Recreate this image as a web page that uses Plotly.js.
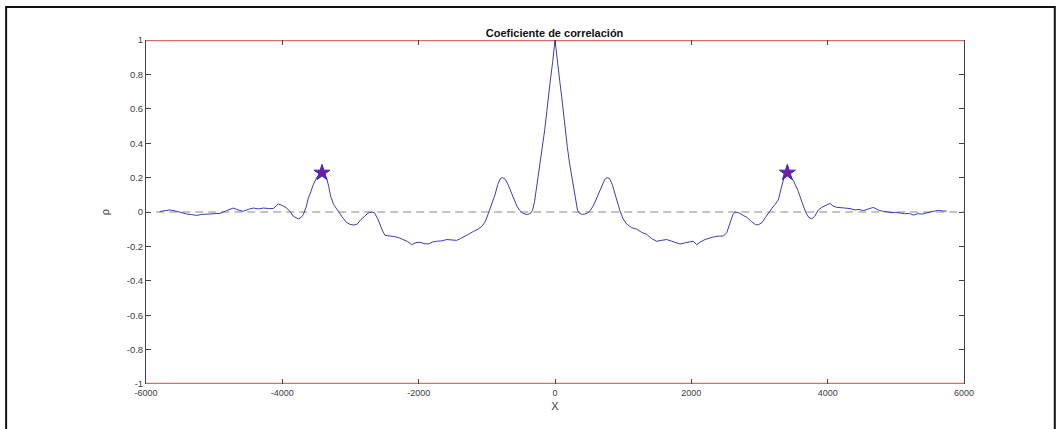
<!DOCTYPE html>
<html>
<head>
<meta charset="utf-8">
<script src="https://cdn.plot.ly/plotly-3.0.1.min.js"></script>
<style>
html,body{margin:0;padding:0;background:#fff;}
#chart{width:1061px;height:429px;}
</style>
</head>
<body>
<div id="chart"></div>
<script>
// Lag values (X) and correlation coefficient (rho)
const lagX = [
-5800,-5720,-5648,-5550,-5480,-5403,-5330,-5256,-5180,-5110,-5020,-4915,-4820,-4719,-4650,-4572,-4500,-4426,-4350,-4279,
-4200,-4132,-4059,-4000,-3936,-3880,-3839,-3765,-3720,-3692,-3650,-3619,-3580,-3545,-3490,-3440,-3418,-3390,-3350,-3320,
-3290,-3250,-3210,-3178,-3120,-3060,-3007,-2950,-2900,-2850,-2800,-2740,-2690,-2650,-2600,-2567,-2530,-2494,-2440,-2372,
-2300,-2225,-2160,-2102,-2040,-1980,-1920,-1859,-1800,-1735,-1660,-1589,-1520,-1442,-1390,-1345,-1270,-1198,-1130,-1075,
-1030,-1002,-970,-943,-910,-880,-840,-800,-770,-730,-690,-640,-600,-560,-520,-480,-440,-400,-360,-330,
-300,-260,-213,-180,-150,-120,-98,-70,-35,-15,0,
15,35,70,98,120,150,180,213,260,300,330,360,400,440,480,520,560,600,640,690,
730,765,800,840,880,920,953,1000,1051,1120,1198,1270,1345,1420,1491,1560,1638,1700,1760,1834,
1900,1960,2029,2079,2130,2200,2260,2323,2400,2470,2520,2570,2610,2641,2700,2760,2812,2880,2940,2983,
3040,3090,3129,3180,3230,3276,3320,3360,3408,3450,3500,3569,3620,3660,3682,3720,3766,3810,3860,3912,
3970,4035,4080,4132,4200,4270,4328,4400,4460,4523,4600,4670,4740,4800,4866,4930,5000,5061,5130,5200,
5256,5320,5390,5452,5520,5580,5623,5690,5745
];
const rho = [
0.003,0.008,0.012,0.004,-0.005,-0.012,-0.015,-0.020,-0.014,-0.012,-0.010,-0.008,0.008,0.023,0.012,0.004,0.015,0.023,0.018,0.023,
0.020,0.020,0.047,0.038,0.023,0.000,-0.025,-0.040,-0.030,-0.015,0.030,0.080,0.120,0.160,0.205,0.226,0.230,0.222,0.195,0.150,
0.090,0.045,0.020,0.005,-0.030,-0.060,-0.072,-0.076,-0.070,-0.045,-0.025,-0.006,0.000,-0.004,-0.040,-0.074,-0.110,-0.136,-0.138,-0.142,
-0.148,-0.160,-0.172,-0.190,-0.178,-0.176,-0.184,-0.186,-0.175,-0.170,-0.168,-0.160,-0.162,-0.165,-0.155,-0.147,-0.130,-0.113,-0.100,-0.084,
-0.060,-0.035,0.000,0.023,0.060,0.100,0.160,0.195,0.200,0.190,0.160,0.110,0.070,0.035,0.010,-0.005,-0.012,-0.014,-0.008,0.010,
0.060,0.170,0.285,0.380,0.480,0.585,0.670,0.760,0.870,0.950,1.000,
0.950,0.870,0.760,0.670,0.585,0.480,0.380,0.285,0.170,0.060,0.010,-0.008,-0.014,-0.012,-0.005,0.010,0.035,0.070,0.110,0.160,
0.190,0.200,0.195,0.160,0.100,0.045,0.007,-0.040,-0.070,-0.090,-0.100,-0.118,-0.130,-0.155,-0.170,-0.165,-0.160,-0.168,-0.178,-0.186,
-0.180,-0.176,-0.170,-0.190,-0.175,-0.160,-0.152,-0.145,-0.140,-0.140,-0.120,-0.060,-0.015,0.000,-0.005,-0.020,-0.030,-0.055,-0.073,-0.075,
-0.060,-0.030,-0.005,0.020,0.045,0.070,0.140,0.200,0.228,0.210,0.180,0.120,0.060,0.010,-0.005,-0.030,-0.040,-0.025,0.010,0.027,
0.040,0.050,0.035,0.027,0.025,0.022,0.020,0.012,0.015,0.008,0.018,0.027,0.012,0.005,0.002,-0.004,-0.002,-0.005,-0.010,-0.008,
-0.018,-0.010,-0.012,-0.005,0.000,0.006,0.010,0.006,0.005
];
// Marked side peaks
const peakX = [-3418, 3408];
const peakY = [0.228, 0.228];
// Reference lines
const zeroLineX = [-5850, 6000];
const zeroLineY = [0, 0];
const boundX = [-6000, 6000];
const upperY = [1, 1];
const lowerY = [-1, -1];
// Ticks
const xTickVals = [-6000,-4000,-2000,0,2000,4000,6000];
const xTickText = ["-6000","-4000","-2000","0","2000","4000","6000"];
const yTickVals = [-1,-0.8,-0.6,-0.4,-0.2,0,0.2,0.4,0.6,0.8,1];
const yTickText = ["-1","-0.8","-0.6","-0.4","-0.2","0","0.2","0.4","0.6","0.8","1"];

const traces = [
  {x: zeroLineX, y: zeroLineY, mode:'lines', line:{color:'#8a8a8a', width:1.2, dash:'8px,5px'}, hoverinfo:'skip'},
  {x: boundX, y: upperY, mode:'lines', line:{color:'#d46e6e', width:2.5}, hoverinfo:'skip'},
  {x: boundX, y: lowerY, mode:'lines', line:{color:'#d46e6e', width:2.5}, hoverinfo:'skip'},
  {x: lagX, y: rho, mode:'lines', line:{color:'#3c3cb4', width:1}},
  {x: peakX, y: peakY, mode:'markers', marker:{symbol:'star', size:12, color:'#7a1a9a', line:{color:'#2a2ad0', width:1}}}
];

const fontFam = '"Liberation Sans", Arial, Helvetica, sans-serif';
const layout = {
  width:1061, height:429,
  margin:{l:146, r:97, t:40, b:45, pad:0},
  paper_bgcolor:'#ffffff', plot_bgcolor:'#ffffff',
  showlegend:false,
  font:{family:fontFam, size:10, color:'#404040'},
  title:{text:'<b>Coeficiente de correlación</b>', font:{family:fontFam, size:11, color:'#111'},
         x:0.5227, xanchor:'center', y:0.922, yanchor:'middle'},
  xaxis:{range:[-6000,6000], tickvals:xTickVals, ticktext:xTickText, ticks:'inside', ticklen:5,
         tickcolor:'#444', showline:false, mirror:'ticks', ticklabelstandoff:2,
         showgrid:false, zeroline:false, tickfont:{size:9, color:'#404040'},
         title:{text:'X', font:{size:11, color:'#404040'}, standoff:5}},
  yaxis:{range:[-1,1], tickvals:yTickVals, ticktext:yTickText, ticks:'inside', ticklen:5,
         tickcolor:'#444', showline:true, linecolor:'#444', linewidth:1, mirror:'ticks',
         layer:'below traces',
         showgrid:false, zeroline:false, tickfont:{size:9.5, color:'#404040'},
         title:{text:'ρ', font:{size:11, color:'#404040'}, standoff:14}},
  shapes:[
    {type:'rect', xref:'paper', yref:'paper', x0:-0.171, x1:1.111, y0:-0.3, y1:1.096,
     line:{color:'#111', width:2}, fillcolor:'rgba(0,0,0,0)', layer:'below'}
  ]
};
Plotly.newPlot('chart', traces, layout, {displayModeBar:false, staticPlot:true});
</script>
</body>
</html>
